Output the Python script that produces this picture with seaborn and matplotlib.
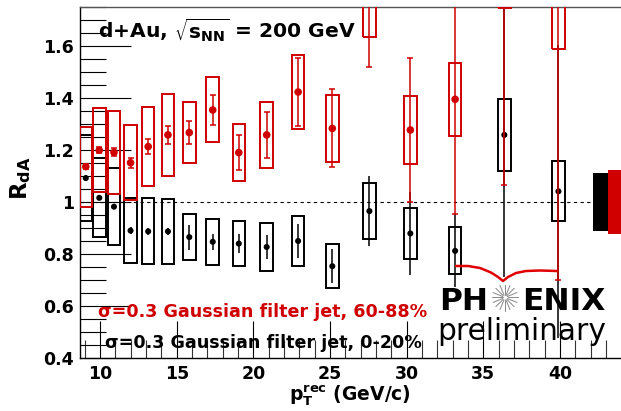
import numpy as np
import pandas as pd
import matplotlib
matplotlib.use("Agg")
import matplotlib.pyplot as plt
import seaborn as sns
from matplotlib.patches import Rectangle
from matplotlib.lines import Line2D
from matplotlib.ticker import MultipleLocator, FixedLocator, FixedFormatter

# ---------------- data ----------------
pt_rec = [9.07, 9.95, 10.91, 11.99, 13.14, 14.43, 15.82, 17.35, 19.05,
          20.87, 22.92, 25.15, 27.57, 30.24, 33.16, 36.37, 39.9]

# 60-88% (red)
periph_val = [1.136, 1.199, 1.191, 1.151, 1.213, 1.258, 1.267, 1.354, 1.19,
              1.258, 1.423, 1.283, 1.87, 1.277, 1.395, 1.99, 1.85]
periph_stat = [0.010, 0.012, 0.015, 0.020, 0.028, 0.035, 0.043, 0.058, 0.068,
               0.088, 0.130, 0.150, 0.350, 0.277, 0.440, 0.923, 1.150]
periph_sys = [0.154, 0.162, 0.160, 0.144, 0.153, 0.158, 0.117, 0.125, 0.109,
              0.127, 0.143, 0.130, 0.237, 0.129, 0.141, 0.243, 0.262]

# 0-20% (black)
central_val = [1.092, 1.016, 0.982, 0.890, 0.887, 0.887, 0.865, 0.847, 0.840,
               0.827, 0.850, 0.753, 0.965, 0.879, 0.812, 1.258, 1.041]
central_stat = [0.010, 0.010, 0.010, 0.012, 0.012, 0.014, 0.048, 0.031, 0.038,
                0.047, 0.064, 0.065, 0.136, 0.158, 0.140, 0.545, 0.564]
central_sys = [0.164, 0.152, 0.148, 0.125, 0.127, 0.125, 0.089, 0.088, 0.085,
               0.091, 0.095, 0.085, 0.107, 0.098, 0.090, 0.139, 0.115]

# global normalisation uncertainties (central, peripheral)
norm_unc = [0.112, 0.124]

x_ticks = [10, 15, 20, 25, 30, 35, 40]
y_ticks = [0.4, 0.6, 0.8, 1.0, 1.2, 1.4, 1.6]
y_tick_labels = ["0.4", "0.6", "0.8", "1", "1.2", "1.4", "1.6"]

label_periph = "\u03c3=0.3 Gaussian filter jet, 60-88%"
label_central = "\u03c3=0.3 Gaussian filter jet, 0-20%"

RED = "#d00000"
BLACK = "#000000"

# ---------------- figure ----------------
sns.set_theme(style="white")
plt.rcParams["font.family"] = ["DejaVu Sans"]
plt.rcParams["mathtext.fontset"] = "dejavusans"
plt.rcParams["text.color"] = "black"
plt.rcParams["xtick.color"] = "black"
plt.rcParams["ytick.color"] = "black"
plt.rcParams["axes.labelcolor"] = "black"

W, H = 621, 411
fig = plt.figure(figsize=(W / 100, H / 100), dpi=100)
ax_l, ax_r, ax_t, ax_b = 79.5, 621.0, 7.0, 358.0
ax = fig.add_axes([ax_l / W, 1 - ax_b / H, (ax_r - ax_l) / W, (ax_b - ax_t) / H])
ax.set_facecolor("white")

xlim = (8.66, 43.98)
ylim = (0.4, 1.75)

# reference line
ax.axhline(1.0, color="black", lw=0.8, ls=(0, (3, 3)), zorder=1)

box_w = 0.82

def draw_series(vals, stat, sys_, color, cap, ms, z):
    for x, y, s in zip(pt_rec, vals, sys_):
        ax.add_patch(Rectangle((x - box_w / 2, y - s), box_w, 2 * s,
                               fill=False, edgecolor=color, lw=1.4, zorder=z))
    ax.errorbar(pt_rec, vals, yerr=stat, fmt="none", ecolor=color,
                elinewidth=1.1, capsize=cap, capthick=1.1, zorder=z + 0.5)
    df = pd.DataFrame({"pt": pt_rec, "val": vals})
    sns.scatterplot(data=df, x="pt", y="val", ax=ax, color=color, s=ms,
                    edgecolor="none", linewidth=0, zorder=z + 1, legend=False)

draw_series(central_val, central_stat, central_sys, BLACK, 0, 19, 3)
draw_series(periph_val, periph_stat, periph_sys, RED, 2.0, 30, 5)

# normalisation boxes
ax.add_patch(Rectangle((42.17, 1 - norm_unc[0]), 0.99, 2 * norm_unc[0],
                       facecolor=BLACK, edgecolor="none", zorder=6))
ax.add_patch(Rectangle((43.16, 1 - norm_unc[1]), 1.05, 2 * norm_unc[1],
                       facecolor=RED, edgecolor="none", zorder=6))

ax.set_xlim(*xlim)
ax.set_ylim(*ylim)

# axes styling (ROOT-like)
for side in ["left", "bottom"]:
    ax.spines[side].set_color("black")
    ax.spines[side].set_linewidth(1.0)
ax.spines["top"].set_color("#555555")
ax.spines["top"].set_linewidth(1.0)
ax.spines["right"].set_visible(False)

ax.xaxis.set_major_locator(FixedLocator(x_ticks))
ax.xaxis.set_minor_locator(MultipleLocator(1))
ax.yaxis.set_major_locator(FixedLocator(y_ticks))
ax.yaxis.set_major_formatter(FixedFormatter(y_tick_labels))
ax.yaxis.set_minor_locator(MultipleLocator(0.05))

ax.tick_params(axis="x", which="major", direction="in", length=26.5, width=0.8,
               color="black", labelcolor="black", bottom=True, top=False,
               pad=5, labelsize=12.5)
ax.tick_params(axis="x", which="minor", direction="in", length=13, width=0.8,
               color="#333333", bottom=True, top=False)
ax.tick_params(axis="y", which="major", direction="in", length=37, width=0.8,
               color="black", labelcolor="black", left=True, right=False,
               pad=4, labelsize=12.5)
ax.tick_params(axis="y", which="minor", direction="in", length=18.5, width=0.8,
               color="black", left=True, right=False)
for lab in ax.get_xticklabels() + ax.get_yticklabels():
    lab.set_fontweight("bold")
ax.set_xlabel("")
ax.set_ylabel("")

def fx(px):
    return px / W

def fy(py):
    return 1 - py / H

# axis titles
fig.text(fx(350), fy(400.5), r"$\mathbf{p_{T}^{rec}}$ (GeV/c)", ha="center",
         va="baseline", fontsize=13.5, fontweight="bold", color="black")
fig.text(fx(21), fy(178), r"$\mathbf{R_{dA}}$", rotation=90, ha="center",
         va="center", fontsize=16.5, fontweight="bold", color="black")

# system label
fig.text(fx(98), fy(38.5), r"d+Au, $\mathbf{\sqrt{s_{NN}}}$ = 200 GeV",
         ha="left", va="baseline", fontsize=14.6, fontweight="bold",
         color="black")

# legend texts
fig.text(fx(98), fy(317), label_periph, color=RED, ha="left", va="baseline",
         fontsize=12.6, fontweight="bold")
fig.text(fx(105), fy(348), label_central, color=BLACK, ha="left",
         va="baseline", fontsize=12.6, fontweight="bold")

# PHENIX preliminary logo
fig.text(fx(439), fy(310), "PH", ha="left", va="baseline", fontsize=22.5,
         fontweight="bold", color="black", zorder=10)
fig.text(fx(522), fy(310), "ENIX", ha="left", va="baseline", fontsize=22.5,
         fontweight="bold", color="black", zorder=10)
fig.text(fx(437), fy(340), "preliminary", ha="left", va="baseline",
         fontsize=21.3, color="black", zorder=10)
cx, cy = 505, 297.5
for ang in np.linspace(0, 2 * np.pi, 16, endpoint=False):
    x0, y0 = cx + 2.5 * np.cos(ang), cy + 2.5 * np.sin(ang)
    x1, y1 = cx + 13 * np.cos(ang), cy + 13 * np.sin(ang)
    fig.add_artist(Line2D([fx(x0), fx(x1)], [fy(y0), fy(y1)],
                          color="#888888", lw=0.7, zorder=10))
sw_x = [456, 468, 480, 491, 498, 503, 508, 516, 526, 540, 557]
sw_y = [266, 266, 268, 272.5, 277, 281, 277, 273, 271, 270.5, 271]
fig.add_artist(Line2D([fx(v) for v in sw_x], [fy(v) for v in sw_y],
                      color="#e00000", lw=1.8, solid_capstyle="round",
                      solid_joinstyle="round", zorder=10))

fig.savefig("out.png", dpi=100)
